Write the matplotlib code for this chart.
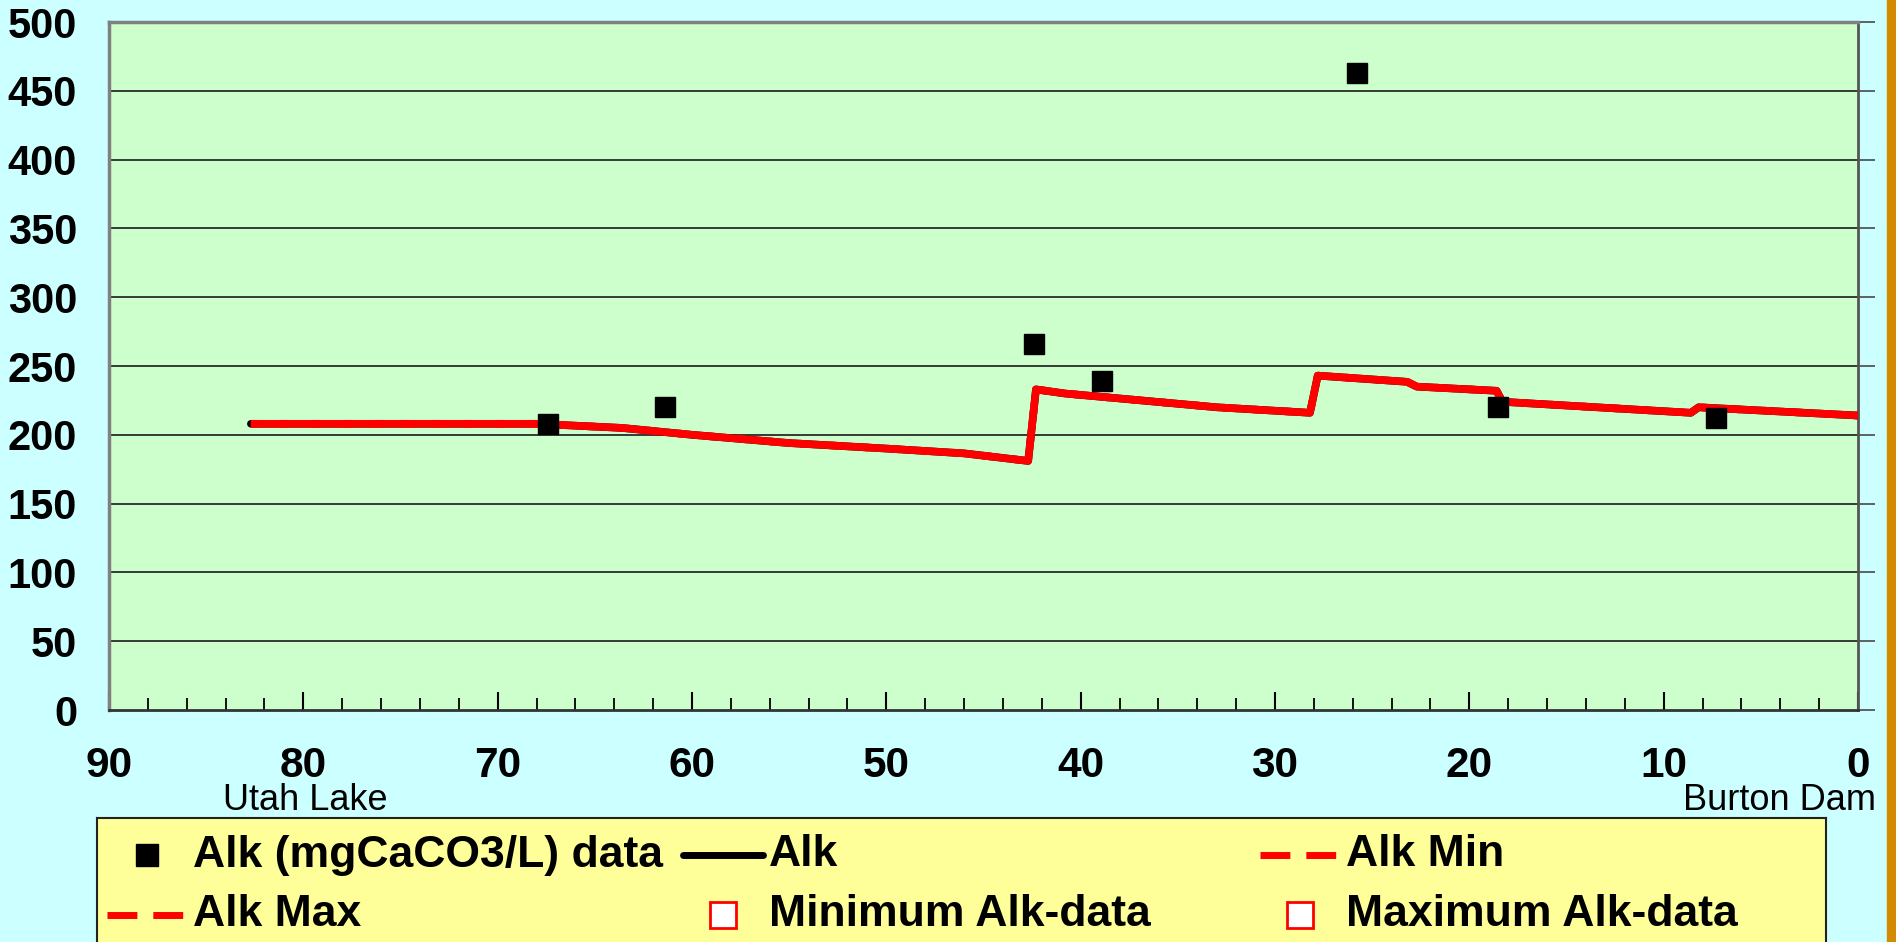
import matplotlib
matplotlib.use("Agg")
import matplotlib.pyplot as plt
from matplotlib.patches import Rectangle

plt.rcParams['font.family'] = ['Liberation Sans', 'DejaVu Sans']

# observed alkalinity (river mile, mgCaCO3/L)
data_x = [67.4, 61.4, 42.4, 38.9, 25.8, 18.5, 7.3]
data_y = [208, 220, 266, 239, 463, 220, 212]

# model run (Alk, Alk Min and Alk Max are the same curve here)
model_x = [82.7, 68.0, 63.6, 60.0, 55.0, 50.0, 46.0, 42.7, 42.3, 40.8, 33.0, 28.2,
           27.8, 23.2, 22.7, 18.6, 18.3, 8.6, 8.2, 0.0]
model_y = [208, 208, 205, 200, 194, 190, 186.5, 181, 233, 230, 220, 216,
           243, 238.5, 235, 232, 224, 216, 220, 214]
alk_min = list(model_y)
alk_max = list(model_y)

# no min/max observation values in this run
min_data_x, min_data_y = [], []
max_data_x, max_data_y = [], []

x_ticks = [90, 80, 70, 60, 50, 40, 30, 20, 10, 0]
y_ticks = [0, 50, 100, 150, 200, 250, 300, 350, 400, 450, 500]

W, H = 1896, 942
fig = plt.figure(figsize=(W / 100, H / 100), dpi=100)
fig.patch.set_facecolor('#CCFFFF')

ax = fig.add_axes([109 / W, 1 - 710 / H, (1858 - 109) / W, (710 - 22) / H])
ax.set_facecolor('#CCFFCC')

for y in y_ticks[1:-1]:
    ax.axhline(y, color='#2a2a2a', lw=1.3, zorder=1)

ax.plot(model_x, model_y, color='black', lw=5.5, zorder=3, solid_capstyle='round')
ax.plot(model_x, alk_min, color='red', lw=5.5, ls=(0, (5, 3)), zorder=4)
ax.plot(model_x, alk_max, color='red', lw=5.5, ls=(4, (5, 3)), zorder=4)
ax.plot(data_x, data_y, 's', color='black', ms=15, zorder=5)
ax.plot(min_data_x, min_data_y, 's', mfc='white', mec='red', ms=15)
ax.plot(max_data_x, max_data_y, 's', mfc='white', mec='red', ms=15)

ax.set_xlim(90, 0)
ax.set_ylim(0, 500)
ax.set_xticks(x_ticks)
ax.set_xticks(range(0, 91, 2), minor=True)
ax.set_yticks(y_ticks)
ax.set_xticklabels([str(v) for v in x_ticks], fontsize=30.5, fontweight='bold')
ax.set_yticklabels([str(v) for v in y_ticks], fontsize=30, fontweight='bold')
ax.tick_params(axis='x', which='major', direction='in', length=13, width=1.5, pad=26)
ax.tick_params(axis='x', which='minor', direction='in', length=9, width=1.3)
ax.tick_params(axis='y', left=False, right=True, direction='out', length=12,
               width=1.3, color='#555555', pad=11)

for side in ['left', 'top']:
    ax.spines[side].set_color('#808080')
    ax.spines[side].set_linewidth(2.5)
ax.spines['bottom'].set_color('#333333')
ax.spines['bottom'].set_linewidth(2)
ax.spines['right'].set_color('#555555')
ax.spines['right'].set_linewidth(2)

fig.text(305 / W, 1 - 801 / H, 'Utah Lake', fontsize=26, ha='center', va='center')
fig.text(1876 / W, 1 - 801 / H, 'Burton Dam', fontsize=26, ha='right', va='center')

# orange strip on the right edge
fig.patches.append(Rectangle((1887 / W, 0), 9 / W, 1, transform=fig.transFigure,
                             color='#D48A00', zorder=0))

# legend box, drawn by hand in figure pixel coordinates
lax = fig.add_axes([97 / W, 1 - 1000 / H, (1826 - 97) / W, (1000 - 818) / H])
lax.set_facecolor('#FFFF99')
lax.set_xlim(97, 1826)
lax.set_ylim(1000, 818)
lax.set_xticks([])
lax.set_yticks([])
for s in lax.spines.values():
    s.set_color('#222222')
    s.set_linewidth(1.5)

legend_labels = ['Alk (mgCaCO3/L) data', 'Alk', 'Alk Min',
                 'Alk Max', 'Minimum Alk-data', 'Maximum Alk-data']
col_text_x = [193, 769, 1346]
row_y = [855, 915]
kinds = ['black_sq', 'black_line', 'red_dash', 'red_dash', 'red_sq', 'red_sq']

for i, (lab, kind) in enumerate(zip(legend_labels, kinds)):
    tx = col_text_x[i % 3]
    ty = row_y[i // 3]
    hx0, hx1 = tx - 86, tx - 6
    hc = (hx0 + hx1) / 2
    if kind == 'black_sq':
        lax.plot([hc], [ty], 's', color='black', ms=16)
    elif kind == 'red_sq':
        lax.plot([hc], [ty], 's', mfc='white', mec='red', mew=2, ms=19)
    elif kind == 'black_line':
        lax.plot([hx0, hx1], [ty, ty], color='black', lw=5, solid_capstyle='round')
    else:
        lax.plot([hx0, hx1], [ty, ty], color='red', lw=5, ls=(0, (4.3, 2.3)))
    lax.text(tx, ty, lab, fontsize=32, fontweight='bold', ha='left', va='center')

fig.savefig('out.png', dpi=100, facecolor=fig.get_facecolor())
